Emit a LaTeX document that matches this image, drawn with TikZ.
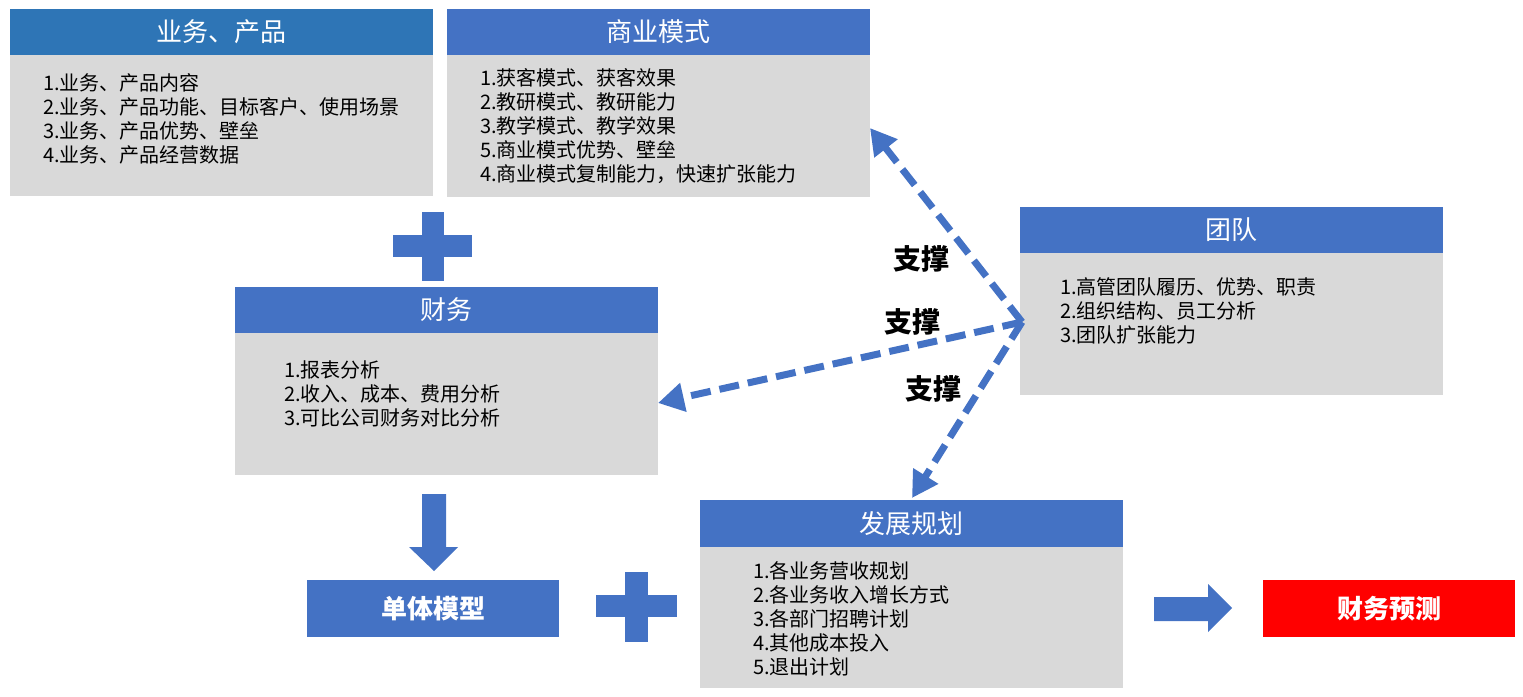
\documentclass[tikz,border=0pt]{standalone}
\usepackage{fontspec}
\setmainfont{Noto Sans CJK SC}
\usetikzlibrary{arrows.meta}
\definecolor{hblue}{HTML}{4472C4}
\definecolor{hblueA}{HTML}{2E75B6}
\definecolor{bgray}{HTML}{D9D9D9}
\definecolor{fred}{HTML}{FF0000}
\begin{document}
\begin{tikzpicture}[x=1pt,y=-1pt,
  hdr/.style={fill=hblue, text=white, minimum width=423pt, minimum height=46pt, inner sep=0pt, font=\fontsize{26}{30}\selectfont},
  bodybox/.style={fill=bgray, minimum width=423pt, inner sep=0pt, anchor=north},
  txt/.style={anchor=base west, align=left, inner sep=0pt, font=\fontsize{20}{24}\selectfont},
  bluebox/.style={fill=hblue, text=white, minimum width=252pt, minimum height=57pt, inner sep=0pt, font=\fontsize{26}{30}\selectfont\bfseries},
  supp/.style={line width=7pt, draw=hblue, dash pattern=on 20pt off 9pt, -{Triangle[length=26pt,width=28pt]}},
  lbl/.style={font=\fontsize{28}{30}\selectfont\bfseries, inner sep=0pt},
  blk/.style={fill=hblue}]
\useasboundingbox (0,0) rectangle (1523,696);
% business & product
\node[hdr, fill=hblueA] (h1) at (221.5,32) {业务、产品};
\node[bodybox, minimum height=141pt] (b1) at (h1.south) {};
\node[txt] (t1) at (43,162) {1.业务、产品内容\\2.业务、产品功能、目标客户、使用场景\\3.业务、产品优势、壁垒\\4.业务、产品经营数据};
% business model
\node[hdr] (h2) at (658.5,32) {商业模式};
\node[bodybox, minimum height=142pt] (b2) at (h2.south) {};
\node[txt] (t2) at (480,181.5) {1.获客模式、获客效果\\2.教研模式、教研能力\\3.教学模式、教学效果\\5.商业模式优势、壁垒\\4.商业模式复制能力，快速扩张能力};
% team
\node[hdr] (h3) at (1231.5,230) {团队};
\node[bodybox, minimum height=142pt] (b3) at (h3.south) {};
\node[txt] (t3) at (1060,342.5) {1.高管团队履历、优势、职责\\2.组织结构、员工分析\\3.团队扩张能力};
% finance
\node[hdr] (h4) at (446.5,310) {财务};
\node[bodybox, minimum height=142pt] (b4) at (h4.south) {};
\node[txt] (t4) at (284,425.5) {1.报表分析\\2.收入、成本、费用分析\\3.可比公司财务对比分析};
% development plan
\node[hdr, minimum height=47pt] (h5) at (911.5,523.5) {发展规划};
\node[bodybox, minimum height=141pt] (b5) at (h5.south) {};
\node[txt] (t5) at (753,674.5) {1.各业务营收规划\\2.各业务收入增长方式\\3.各部门招聘计划\\4.其他成本投入\\5.退出计划};
% single model & forecast
\node[bluebox] (m1) at (433,608.5) {单体模型};
\node[bluebox, fill=fred] (m2) at (1389,608.5) {财务预测};
% plus signs
\fill[blk] (422,212) rectangle (444,281);
\fill[blk] (393,235) rectangle (472,257);
\fill[blk] (625,572) rectangle (648,642);
\fill[blk] (596,595) rectangle (677,617);
% block arrows
\fill[blk] (422,494) -- (446,494) -- (446,547) -- (458,547) -- (434,571) -- (409,547) -- (422,547) -- cycle;
\fill[blk] (1154,597) -- (1208,597) -- (1208,584) -- (1232,608) -- (1208,632) -- (1208,621) -- (1154,621) -- cycle;
% support arrows
\coordinate (hub) at (1022,322);
\coordinate (e1) at (870,128);
\coordinate (e2) at (658,403);
\coordinate (e3) at (912,498);
\draw[supp] (hub) -- (e1);
\draw[supp] (hub) -- (e2);
\draw[supp] (hub) -- (e3);
\node[lbl] (l1) at (921,259) {支撑};
\node[lbl] (l2) at (912,322) {支撑};
\node[lbl] (l3) at (933,389) {支撑};
\end{tikzpicture}
\end{document}
